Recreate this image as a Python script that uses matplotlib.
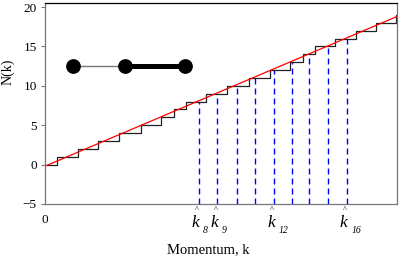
import matplotlib.pyplot as plt
import matplotlib.transforms as mtransforms

plt.rcParams['font.family'] = ['Liberation Serif', 'DejaVu Serif']
plt.rcParams['mathtext.fontset'] = 'stix'

# step positions of the counting function N(k) (rises by one at each)
step_k = [0.66, 1.77, 2.88, 4.02, 5.17, 6.27, 6.94, 7.62, 8.70, 9.82,
          11.01, 12.12, 13.21, 13.93, 14.59, 15.64, 16.76, 17.89, 18.97]

# smooth (Weyl) part
weyl_k = [0.0, 19.0]
weyl_N = [-0.2, 18.8]

# estimated momenta k^_n and the level they reach
khat_n = [8, 9, 10, 11, 12, 13, 14, 15, 16]
khat_k = [8.29, 9.31, 10.34, 11.35, 12.38, 13.31, 14.25, 15.26, 16.29]
khat_labels = {8: '8', 9: '9', 12: '12', 16: '16'}

# little graph drawn inside the axes
graph_x = [1.50, 4.32, 7.57]
graph_y = [12.55, 12.55, 12.55]

xs = [0.0]
ys = [0]
for i, k in enumerate(step_k):
    xs += [k, k]
    ys += [i, i + 1]
xs.append(19.0)
ys.append(len(step_k))

fig = plt.figure(figsize=(4.0, 2.78), dpi=100)
ax = fig.add_axes([45/400, 1-204/278, 352/400, 201.3/278])

ax.vlines(khat_k, -5, khat_n, colors='blue', linestyles=(0, (4.3, 2.9)), lw=1.0)
ax.plot(xs, ys, color='#222222', lw=0.9)
ax.plot(weyl_k, weyl_N, color='red', lw=0.9)

ax.plot(graph_x[:2], graph_y[:2], color='#777777', lw=1.0)
ax.plot(graph_x[1:], graph_y[1:], color='black', lw=3.6)
ax.plot(graph_x, graph_y, 'o', color='black', ms=9.6)

ax.set_xlim(0, 19.0)
ax.set_ylim(-5, 20.55)
ax.set_yticks([-5, 0, 5, 10, 15, 20])
ax.set_yticklabels(['\u22125', '0', '5', '10', '15', '20'])
ax.set_xticks([0])
ax.set_xticklabels(['0'])
ax.tick_params(axis='y', length=3, width=0.8, color='#777777', pad=3, labelsize=9.5)
ax.tick_params(axis='x', length=0, pad=7, labelsize=9.5)
for side in ['left', 'bottom', 'right']:
    ax.spines[side].set_color('#777777')
ax.spines['top'].set_color('black')
for sp in ax.spines.values():
    sp.set_linewidth(0.9)

trans = mtransforms.blended_transform_factory(ax.transData, ax.transAxes)
for n, k in zip(khat_n, khat_k):
    if n not in khat_labels:
        continue
    ax.annotate('^', xy=(k, 0), xycoords=trans, xytext=(-1.5, -4.5),
                textcoords='offset points', ha='center', va='center',
                fontsize=6, annotation_clip=False)
    ax.annotate('k', xy=(k, 0), xycoords=trans, xytext=(-2.2, -13.5),
                textcoords='offset points', ha='center', va='center',
                fontsize=12.5, style='italic', annotation_clip=False)
    ax.annotate(khat_labels[n], xy=(k, 0), xycoords=trans, xytext=(3.2, -19),
                textcoords='offset points', ha='left', va='center',
                fontsize=7, style='italic', annotation_clip=False)

fig.text(7.5/400, 1-72/278, 'N(k)', rotation=90, ha='center', va='center', fontsize=10)
fig.text(208/400, 1-250/278, 'Momentum, k', ha='center', va='center', fontsize=10.5)

fig.savefig('out.png', dpi=100)
